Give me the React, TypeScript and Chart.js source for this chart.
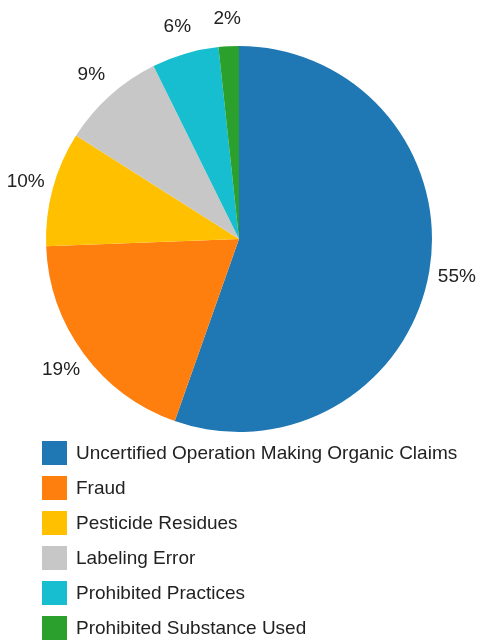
import React, { useEffect, useRef } from "react";
import { Chart, registerables } from "chart.js";

Chart.register(...registerables);

const categories = [
  "Uncertified Operation Making Organic Claims",
  "Fraud",
  "Pesticide Residues",
  "Labeling Error",
  "Prohibited Practices",
  "Prohibited Substance Used",
];
const values = [55.4, 19.0, 9.6, 8.7, 5.6, 1.7];
const percentLabels = ["55%", "19%", "10%", "9%", "6%", "2%"];
const colors = ["#1f77b4", "#ff7f0e", "#ffc000", "#c7c7c7", "#17becf", "#2ca02c"];

const FONT = "19px 'Liberation Sans', Arial, sans-serif";

const outsideLabels = {
  id: "outsideLabels",
  afterDatasetsDraw(chart: any) {
    const ctx = chart.ctx;
    const meta = chart.getDatasetMeta(0);
    ctx.save();
    ctx.font = FONT;
    ctx.fillStyle = "#222";
    ctx.textAlign = "center";
    ctx.textBaseline = "middle";
    meta.data.forEach((arc: any, i: number) => {
      const { x, y, startAngle, endAngle, outerRadius } = arc.getProps(
        ["x", "y", "startAngle", "endAngle", "outerRadius"],
        true
      );
      const mid = (startAngle + endAngle) / 2;
      const r = outerRadius + 28;
      ctx.fillText(percentLabels[i], x + Math.cos(mid) * r, y + Math.sin(mid) * r);
    });
    ctx.restore();
  },
};

const customLegend = {
  id: "customLegend",
  afterDraw(chart: any) {
    const ctx = chart.ctx;
    const labels = chart.data.labels as string[];
    const bg = chart.data.datasets[0].backgroundColor as string[];
    ctx.save();
    ctx.font = FONT;
    ctx.textAlign = "left";
    ctx.textBaseline = "middle";
    labels.forEach((lab, i) => {
      const cy = 453 + i * 35;
      ctx.fillStyle = bg[i];
      ctx.fillRect(42, cy - 12, 25, 24);
      ctx.fillStyle = "#222";
      ctx.fillText(lab, 76, cy + 1);
    });
    ctx.restore();
  },
};

export default function App() {
  const ref = useRef<HTMLCanvasElement | null>(null);
  useEffect(() => {
    if (!ref.current) return;
    const chart = new Chart(ref.current, {
      type: "pie",
      data: {
        labels: categories,
        datasets: [
          {
            data: values,
            backgroundColor: colors,
            borderWidth: 0,
          },
        ],
      },
      options: {
        responsive: false,
        animation: false,
        layout: { padding: { left: 46, top: 46, right: 54, bottom: 208 } },
        plugins: {
          legend: { display: false },
          tooltip: { enabled: false },
        },
      },
      plugins: [outsideLabels, customLegend],
    });
    return () => chart.destroy();
  }, []);
  return (
    <div style={{ position: "fixed", left: 0, top: 0, width: 486, height: 640, background: "#fff" }}>
      <canvas ref={ref} width={486} height={640} style={{ display: "block" }} />
    </div>
  );
}
